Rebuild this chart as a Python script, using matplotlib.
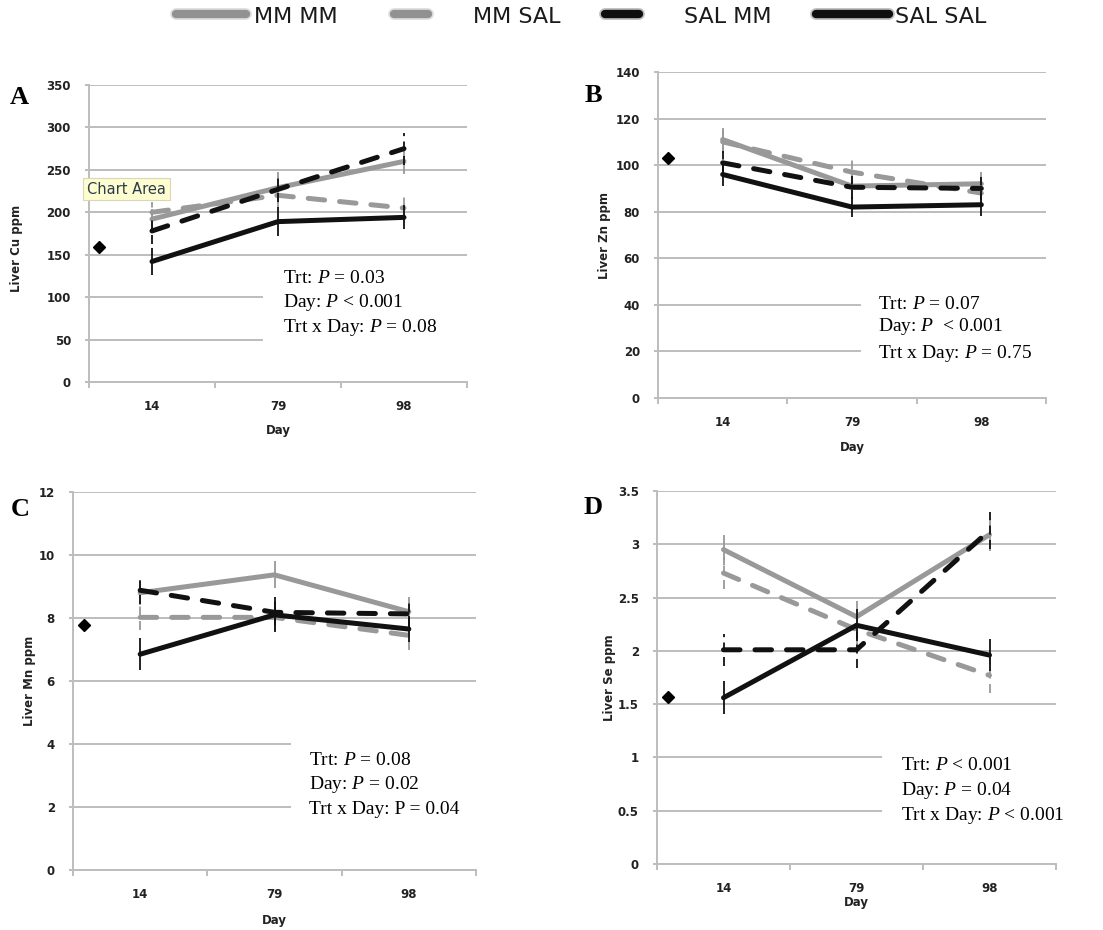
import numpy as np
import matplotlib.pyplot as plt
from matplotlib.lines import Line2D
from matplotlib.patches import Rectangle
from matplotlib.ticker import MultipleLocator, FuncFormatter

plt.rcParams['mathtext.fontset'] = 'custom'
plt.rcParams['mathtext.rm'] = 'Liberation Serif'
plt.rcParams['mathtext.it'] = 'Liberation Serif:italic'

days = ['14', '79', '98']
series = ['MM MM', 'MM SAL', 'SAL MM', 'SAL SAL']

# means per series (rows: MM MM, MM SAL, SAL MM, SAL SAL), one value per day
cu_means = [[192, 229, 260], [200, 220, 205], [178, 227, 275], [142, 189, 194]]
cu_errs = [[12, 18, 15], [12, 15, 15], [15, 15, 19], [16, 17, 14]]
cu_base = 159

zn_means = [[111, 91, 92], [110, 97, 88], [101, 90.5, 90], [96, 82, 83]]
zn_errs = [[5, 5, 5], [5, 5, 5], [5, 5, 5], [5, 4.3, 5]]
zn_base = 103

mn_means = [[8.8, 9.37, 8.2], [8.02, 8.02, 7.45], [8.88, 8.18, 8.13], [6.85, 8.1, 7.65]]
mn_errs = [[0.4, 0.43, 0.47], [0.4, 0.4, 0.48], [0.44, 0.4, 0.4], [0.5, 0.56, 0.4]]
mn_base = 7.78

se_means = [[2.95, 2.32, 3.09], [2.73, 2.2, 1.77], [2.01, 2.01, 3.13], [1.56, 2.24, 1.96]]
se_errs = [[0.14, 0.15, 0.15], [0.15, 0.15, 0.17], [0.15, 0.17, 0.17], [0.155, 0.15, 0.15]]
se_base = 1.57

stats_a = [r'Trt: $\it{P}$ = 0.03', r'Day: $\it{P}$ < 0.001', r'Trt x Day: $\it{P}$ = 0.08']
stats_b = [r'Trt: $\it{P}$ = 0.07', r'Day: $\it{P}$  < 0.001', r'Trt x Day: $\it{P}$ = 0.75']
stats_c = [r'Trt: $\it{P}$ = 0.08', r'Day: $\it{P}$ = 0.02', 'Trt x Day: P = 0.04']
stats_d = [r'Trt: $\it{P}$ < 0.001', r'Day: $\it{P}$ = 0.04', r'Trt x Day: $\it{P}$ < 0.001']

colors = ['#999999', '#999999', '#111111', '#111111']
dashed = [False, True, True, False]
GRID = '#bdbdbd'
TXT = '#222222'
W, H = 1103, 930


def ax_rect(l, r, t, b):
    return [l / W, 1 - b / H, (r - l) / W, (b - t) / H]


def fmt(v, pos):
    return '{:g}'.format(v)


ylab_pos = {'A': (-0.175, 0.45), 'B': (-0.121, 0.5), 'C': (-0.092, 0.5), 'D': (-0.103, 0.5)}


def panel(ax, means, errs, base, ymax, step, ylab, stats, box, txtpos, letter, letterpos):
    x = np.arange(len(days))
    for i in range(len(series)):
        ls = (0, (3.3, 3.0)) if dashed[i] else '-'
        eb = ax.errorbar(x, means[i], yerr=errs[i], fmt='none', ecolor=colors[i],
                         elinewidth=1.3, capsize=0, zorder=2 + i)
        if dashed[i]:
            eb[2][0].set_linestyle((0, (5, 3)))
        ax.plot(x, means[i], color=colors[i], lw=3.6, ls=ls, dash_capstyle='round',
                solid_capstyle='round', zorder=3 + i)
    ax.plot([-0.42], [base], marker='D', color='black', ms=6, ls='none', zorder=8)

    ax.set_xlim(-0.5, 2.5)
    ax.set_ylim(0, ymax)
    ax.set_xticks(x)
    ax.set_xticklabels(days)
    ax.set_xticks([-0.5, 0.5, 1.5, 2.5], minor=True)
    ax.yaxis.set_major_locator(MultipleLocator(step))
    ax.yaxis.set_major_formatter(FuncFormatter(fmt))
    ax.tick_params(axis='x', which='major', length=0, pad=13)
    ax.tick_params(axis='x', which='minor', length=4, width=1.4, color=GRID)
    ax.tick_params(axis='y', length=3, width=1.4, color=GRID, pad=10)
    for lab in ax.get_xticklabels() + ax.get_yticklabels():
        lab.set_fontsize(8.5)
        lab.set_fontweight('bold')
        lab.set_color(TXT)
    ax.yaxis.grid(True, color=GRID, lw=1.4)
    ax.set_axisbelow(True)
    for s in ['top', 'right']:
        ax.spines[s].set_visible(False)
    for s in ['left', 'bottom']:
        ax.spines[s].set_color(GRID)
        ax.spines[s].set_linewidth(1.4)

    ax.set_ylabel(ylab, fontsize=8.5, fontweight='bold', color=TXT)
    ax.yaxis.set_label_coords(*ylab_pos[letter])

    # white text box hiding the lower gridlines
    ax.add_patch(Rectangle((box[0], box[1]), 3.0, box[2] - box[1], facecolor='white',
                           edgecolor='none', zorder=1))
    for k, s in enumerate(stats):
        ax.text(txtpos[0], txtpos[1][k], s, transform=ax.transAxes, fontsize=14,
                family='Liberation Serif', va='center', ha='left', color='black')
    ax.figure.text(letterpos[0] / W, 1 - letterpos[1] / H, letter, fontsize=19,
                   fontweight='bold', family='Liberation Serif', ha='center', va='center')


fig = plt.figure(figsize=(W / 100, H / 100), dpi=100)

axA = fig.add_axes(ax_rect(89, 467, 85, 382))
panel(axA, cu_means, cu_errs, cu_base, 350, 50, 'Liver Cu ppm', stats_a,
      (0.88, 20, 135), (0.513, [0.347, 0.266, 0.182]), 'A', (19, 97))
axB = fig.add_axes(ax_rect(658, 1046, 72, 398))
panel(axB, zn_means, zn_errs, zn_base, 140, 20, 'Liver Zn ppm', stats_b,
      (1.07, 8, 50), (0.567, [0.288, 0.218, 0.138]), 'B', (593, 95))
axC = fig.add_axes(ax_rect(73, 476, 492, 870))
panel(axC, mn_means, mn_errs, mn_base, 12, 2, 'Liver Mn ppm', stats_c,
      (1.12, 1.0, 5.0), (0.586, [0.291, 0.225, 0.159]), 'C', (20, 510))
axD = fig.add_axes(ax_rect(657, 1056, 491, 864))
panel(axD, se_means, se_errs, se_base, 3.5, 0.5, 'Liver Se ppm', stats_d,
      (1.19, 0.25, 1.25), (0.612, [0.263, 0.196, 0.129]), 'D', (593, 507))

# "Day" axis titles
for ax, y in [(axA, 430), (axB, 447), (axC, 920), (axD, 902)]:
    pos = ax.get_position()
    fig.text(pos.x0 + pos.width / 2, 1 - y / H, 'Day', fontsize=8.5, fontweight='bold',
             color=TXT, ha='center', va='center')

# tooltip left over in panel A
fig.text(126.5 / W, 1 - 189 / H, 'Chart Area', fontsize=10.5, color='#2e3b4e',
         ha='center', va='center', zorder=20,
         bbox=dict(boxstyle='square,pad=0.25', facecolor='#fdfdcf', edgecolor='#d8d8b8', lw=0.8))

# legend at the top, drawn by hand
leg_handles = [(176, 246), (394, 428), (605, 639), (816, 889)]
leg_text_x = [254, 473, 684, 895]
leg_colors = ['#919191', '#919191', '#0f0f0f', '#0f0f0f']
halo = ['#dedede', '#dedede', '#bdbdbd', '#bdbdbd']
ly = 1 - 14 / H
for i, name in enumerate(series):
    x0, x1 = leg_handles[i]
    fig.add_artist(Line2D([x0 / W, x1 / W], [ly, ly], color=halo[i], lw=8.5,
                          solid_capstyle='round', transform=fig.transFigure))
    fig.add_artist(Line2D([x0 / W, x1 / W], [ly, ly], color=leg_colors[i], lw=6,
                          solid_capstyle='round', transform=fig.transFigure))
    fig.text(leg_text_x[i] / W, 1 - 17 / H, name, fontsize=16, color='#1a1a1a',
             ha='left', va='center')

fig.savefig('out.png', dpi=100)
